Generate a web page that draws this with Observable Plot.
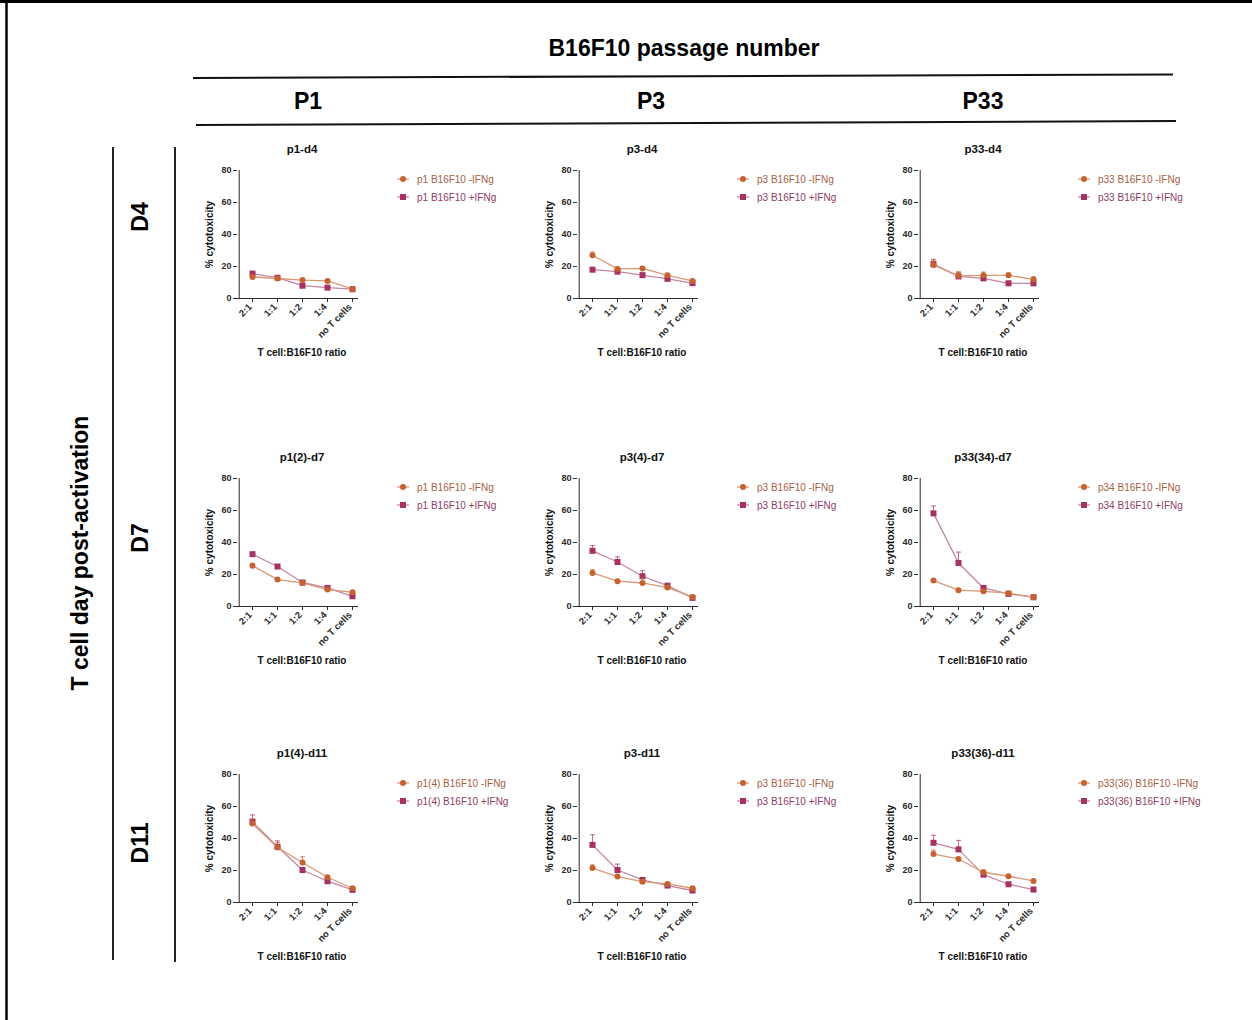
<!DOCTYPE html>
<html><head><meta charset="utf-8">
<script src="https://cdn.jsdelivr.net/npm/d3@7"></script>
<script src="https://cdn.jsdelivr.net/npm/@observablehq/plot@0.6"></script>
<style>
body{margin:0;background:#fff;font-family:"Liberation Sans",Arial,Helvetica,sans-serif;}
#root{position:relative;width:1252px;height:1020px;overflow:hidden;background:#fff;}
.abs{position:absolute;white-space:nowrap;}
.big{font-weight:bold;font-size:23px;color:#000;transform:translate(-50%,-50%);}
.rot{transform:translate(-50%,-50%) rotate(-90deg);}
.leg{position:absolute;display:flex;align-items:center;height:14px;font-size:10px;white-space:nowrap;}
</style></head><body><div id="root"></div>
<script>
// ---------- data ----------
const ratios = ["2:1", "1:1", "1:2", "1:4", "no T cells"];
const yTicks = [0, 20, 40, 60, 80];
const columnLabels = ["P1", "P3", "P33"];
const rowLabels = ["D4", "D7", "D11"];
const panelTitles = ["p1-d4", "p3-d4", "p33-d4", "p1(2)-d7", "p3(4)-d7", "p33(34)-d7", "p1(4)-d11", "p3-d11", "p33(36)-d11"];
const legendMinus = ["p1 B16F10 -IFNg", "p3 B16F10 -IFNg", "p33 B16F10 -IFNg", "p1 B16F10 -IFNg", "p3 B16F10 -IFNg", "p34 B16F10 -IFNg", "p1(4) B16F10 -IFNg", "p3 B16F10 -IFNg", "p33(36) B16F10 -IFNg"];
const legendPlus = ["p1 B16F10 +IFNg", "p3 B16F10 +IFNg", "p33 B16F10 +IFNg", "p1 B16F10 +IFNg", "p3 B16F10 +IFNg", "p34 B16F10 +IFNg", "p1(4) B16F10 +IFNg", "p3 B16F10 +IFNg", "p33(36) B16F10 +IFNg"];
// % cytotoxicity, -IFNg
const minusIFNg = [
  [13.5, 12.5, 11.5, 11.0, 6.0],
  [27.0, 18.5, 18.8, 14.5, 11.0],
  [21.0, 14.2, 14.5, 14.5, 12.0],
  [25.5, 16.8, 14.7, 10.6, 8.9],
  [21.0, 15.8, 14.7, 11.8, 6.0],
  [16.2, 10.2, 9.5, 8.3, 5.8],
  [49.3, 34.4, 25.0, 15.8, 8.9],
  [21.5, 16.2, 13.0, 11.6, 8.9],
  [30.3, 27.2, 18.9, 16.4, 13.5]
];
const minusErr = [
  [1.0, 0.8, 1.0, 1.0, 0.6],
  [2.0, 1.0, 1.2, 1.0, 0.8],
  [3.0, 2.5, 2.0, 1.5, 1.5],
  [1.5, 0.8, 0.8, 0.8, 0.6],
  [2.0, 1.0, 3.0, 1.0, 1.0],
  [0.6, 0.8, 0.8, 0.6, 0.5],
  [3.0, 3.0, 3.6, 1.0, 0.8],
  [2.0, 0.8, 0.8, 0.8, 0.6],
  [2.4, 1.0, 1.4, 0.6, 0.6]
];
// % cytotoxicity, +IFNg
const plusIFNg = [
  [15.5, 13.0, 8.0, 6.8, 5.8],
  [18.0, 16.8, 14.6, 12.3, 9.6],
  [21.5, 13.8, 12.6, 9.5, 9.5],
  [32.7, 25.0, 15.0, 11.6, 6.4],
  [34.8, 27.8, 18.9, 13.0, 5.4],
  [58.2, 27.2, 11.6, 7.9, 5.8],
  [50.4, 34.8, 20.3, 13.3, 7.9],
  [36.0, 20.3, 14.1, 10.6, 7.5],
  [37.3, 33.2, 17.4, 11.4, 8.1]
];
const plusErr = [
  [1.5, 1.0, 1.0, 0.8, 0.6],
  [1.0, 1.0, 1.0, 1.0, 0.8],
  [3.0, 2.5, 2.0, 1.0, 1.0],
  [1.2, 1.0, 0.8, 0.8, 0.6],
  [3.2, 3.2, 3.5, 1.0, 0.8],
  [4.6, 6.8, 1.0, 0.8, 0.5],
  [4.3, 3.7, 1.2, 1.0, 0.6],
  [6.3, 3.7, 1.0, 0.8, 0.6],
  [4.7, 5.6, 1.6, 1.0, 0.8]
];
// ---------- style ----------
const colMinus = "#c6622f", lineMinus = "#d99877", txtMinus = "#a5603f";
const colPlus = "#a53262", linePlus = "#c785a4", txtPlus = "#8d3c64";
const colX = [237, 577, 918];
const rowY = [170, 478, 774];
const root = document.getElementById("root");
const capSymbol = {draw(ctx, size) { const w = Math.sqrt(size) / 2; ctx.moveTo(-w, 0); ctx.lineTo(w, 0); }};
const FONT = '"Liberation Sans", Arial, sans-serif';
const AX = "#2a2a2a";

function addDiv(cls, text, x, y) {
  const d = document.createElement("div");
  d.className = "abs " + cls;
  d.textContent = text;
  d.style.left = x + "px"; d.style.top = y + "px";
  root.appendChild(d);
  return d;
}

function seriesMarks(data, col, lineCol, symbol, r) {
  return [
    Plot.line(data, {x: "ratio", y: "value", stroke: lineCol, strokeWidth: 1.3}),
    Plot.ruleX(data.filter(d => d.err > 0), {x: "ratio", y1: "value", y2: d => d.value + d.err, stroke: col, strokeWidth: 1, strokeOpacity: 0.7}),
    Plot.dot(data.filter(d => d.err > 0), {x: "ratio", y: d => d.value + d.err, symbol: capSymbol, r: 2.8, stroke: col, strokeWidth: 1, strokeOpacity: 0.7}),
    Plot.dot(data, {x: "ratio", y: "value", symbol, r, fill: col, stroke: "none"})
  ];
}

for (let i = 0; i < 9; i++) {
  const c = i % 3, rw = Math.floor(i / 3);
  const x0 = colX[c], y80 = rowY[rw];
  const minus = ratios.map((r, j) => ({ratio: r, value: minusIFNg[i][j], err: minusErr[i][j]}));
  const plus = ratios.map((r, j) => ({ratio: r, value: plusIFNg[i][j], err: plusErr[i][j]}));
  const plot = Plot.plot({
    width: 173, height: 222,
    marginLeft: 42, marginRight: 10, marginTop: 30, marginBottom: 64,
    style: {fontFamily: FONT, fontSize: "9.5px", fontWeight: "bold", color: AX, background: "transparent", overflow: "visible"},
    x: {type: "point", domain: ratios, padding: 0, insetLeft: 13.3, insetRight: 5},
    y: {domain: [0, 80]},
    marks: [
      Plot.axisY({ticks: yTicks, tickSize: 4, tickPadding: 2, fontSize: 9, fontWeight: "bold", label: null}),
      Plot.axisX({tickSize: 4, tickFormat: () => "", label: null}),
      Plot.ruleY([0], {stroke: AX, strokeWidth: 1}),
      Plot.ruleX([ratios[0]], {dx: -13.3, stroke: AX, strokeWidth: 1}),
      Plot.text(ratios, {x: d => d, frameAnchor: "bottom", rotate: -45, textAnchor: "end", dx: 0, dy: 9, fontSize: 9.5, fontWeight: "bold", fill: AX}),
      ...seriesMarks(plus, colPlus, linePlus, "square", 3.4),
      ...seriesMarks(minus, colMinus, lineMinus, "circle", 3),
      Plot.text([panelTitles[i]], {frameAnchor: "top", lineAnchor: "middle", dy: -21, dx: 4, fontSize: 11.5, fontWeight: "bold", fill: "#111"}),
      Plot.text(["T cell:B16F10 ratio"], {frameAnchor: "bottom", lineAnchor: "middle", dy: 54, dx: 4, fontSize: 10, fontWeight: "bold", fill: "#111"}),
      Plot.text(["% cytotoxicity"], {frameAnchor: "left", textAnchor: "middle", dx: -28, rotate: -90, fontSize: 10, fontWeight: "bold", fill: "#111"})
    ]
  });
  plot.style.position = "absolute";
  plot.style.left = (x0 - 42) + "px";
  plot.style.top = (y80 - 30) + "px";
  root.appendChild(plot);
  // legend
  [[legendMinus[i], colMinus, lineMinus, txtMinus, "circle"], [legendPlus[i], colPlus, linePlus, txtPlus, "square"]].forEach(([label, col, lc, tc, shape], k) => {
    const d = document.createElement("div");
    d.className = "leg";
    d.style.left = (x0 + 160) + "px";
    d.style.top = (y80 + 9 + 18 * k - 7) + "px";
    d.style.color = tc;
    const mk = shape === "circle" ? `<circle cx="6" cy="7" r="3" fill="${col}"/>` : `<rect x="3" y="4" width="6" height="6" fill="${col}"/>`;
    d.innerHTML = `<svg width="12" height="14" style="display:block"><line x1="0" x2="12" y1="7" y2="7" stroke="${lc}" stroke-width="1.3"/>${mk}</svg><span style="margin-left:8px">${label}</span>`;
    root.appendChild(d);
  });
}

// ---------- headers ----------
addDiv("big", "B16F10 passage number", 684, 48);
const colCenters = [308, 651, 983];
columnLabels.forEach((t, k) => addDiv("big", t, colCenters[k], 101));
addDiv("big rot", "T cell day post-activation", 80, 553);
const rowCenters = [217, 538, 843];
rowLabels.forEach((t, k) => addDiv("big rot", t, 140, rowCenters[k]));

// decorative rules and frame
const ns = "http://www.w3.org/2000/svg";
const deco = document.createElementNS(ns, "svg");
deco.setAttribute("width", 1252); deco.setAttribute("height", 1020);
deco.style.position = "absolute"; deco.style.left = "0"; deco.style.top = "0"; deco.style.pointerEvents = "none";
deco.innerHTML = `
<line x1="0" y1="1.5" x2="1252" y2="1.5" stroke="#000" stroke-width="3"/>
<line x1="6.5" y1="0" x2="6.5" y2="1020" stroke="#000" stroke-width="2.5"/>
<line x1="193" y1="78" x2="1173" y2="74.5" stroke="#111" stroke-width="2"/>
<line x1="196" y1="125" x2="1176" y2="121" stroke="#111" stroke-width="2"/>
<line x1="113" y1="147" x2="113" y2="960" stroke="#222" stroke-width="2"/>
<line x1="175" y1="147" x2="175" y2="962" stroke="#222" stroke-width="2"/>`;
root.appendChild(deco);
</script>
</body></html>
